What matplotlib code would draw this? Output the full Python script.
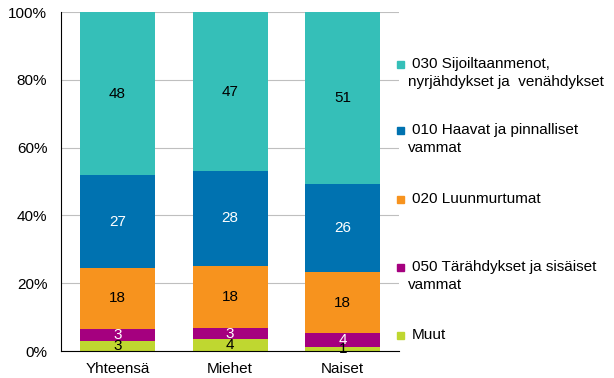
import matplotlib.pyplot as plt
from matplotlib.patches import Rectangle
import numpy as np

plt.rcParams['font.family'] = ['Liberation Sans', 'DejaVu Sans']

categories = ['Yhteensä', 'Miehet', 'Naiset']

# shares (%), bottom to top
muut = [2.9, 3.5, 1.2]
tar050 = [3.6, 3.3, 4.1]
luu020 = [18.0, 18.3, 18.0]
haav010 = [27.4, 28.0, 26.0]
sij030 = [48.1, 46.9, 50.7]

# labels printed in the bars
muut_lbl = [3, 4, 1]
tar050_lbl = [3, 3, 4]
luu020_lbl = [18, 18, 18]
haav010_lbl = [27, 28, 26]
sij030_lbl = [48, 47, 51]

series = [
    (muut, muut_lbl, '#BFD730', 'black', 'Muut'),
    (tar050, tar050_lbl, '#A5007F', 'white', '050 Tärähdykset ja sisäiset\nvammat'),
    (luu020, luu020_lbl, '#F7931E', 'black', '020 Luunmurtumat'),
    (haav010, haav010_lbl, '#0072B0', 'white', '010 Haavat ja pinnalliset\nvammat'),
    (sij030, sij030_lbl, '#35BFB8', 'black', '030 Sijoiltaanmenot,\nnyrjähdykset ja  venähdykset'),
]

fig = plt.figure(figsize=(6.14, 3.78), dpi=100)
ax = fig.add_axes([0.0997, 0.0714, 0.5503, 0.8966])

x = np.arange(len(categories))
bottom = np.zeros(len(categories))
for vals, lbls, col, tcol, name in series:
    vals = np.array(vals)
    ax.bar(x, vals, 0.667, bottom=bottom, color=col, zorder=2)
    for xi, b, v, l in zip(x, bottom, vals, lbls):
        ax.text(xi, b + v / 2, str(l), ha='center', va='center',
                color=tcol, fontsize=11, zorder=3)
    bottom = bottom + vals

ax.set_xlim(-0.5, 2.5)
ax.set_ylim(0, 100)
ax.set_yticks(range(0, 101, 20))
ax.set_yticklabels([f'{t}%' for t in range(0, 101, 20)], fontsize=11)
ax.set_xticks(x)
ax.set_xticklabels(categories, fontsize=11)
ax.tick_params(axis='y', length=0, pad=10)
ax.tick_params(axis='x', length=0, pad=8)
ax.yaxis.grid(True, color='#BFBFBF', linewidth=0.8, zorder=0)
ax.spines['top'].set_visible(False)
ax.spines['right'].set_visible(False)
ax.spines['left'].set_color('black')
ax.spines['bottom'].set_color('black')

# legend, top to bottom, drawn by hand
leg_y = [64, 130, 199, 267, 335]
for (vals, lbls, col, tcol, name), yy in zip(series[::-1], leg_y):
    fy = 1 - yy / 378
    fig.add_artist(Rectangle((397 / 614, fy - 3.5 / 378), 7 / 614, 7 / 378,
                             color=col, transform=fig.transFigure))
    lines = name.split('\n')
    fig.text(412 / 614, fy, lines[0], ha='left', va='center', fontsize=11)
    if len(lines) > 1:
        fig.text(408 / 614, fy - 18 / 378, lines[1], ha='left', va='center', fontsize=11)

fig.savefig('out.png', dpi=100)
